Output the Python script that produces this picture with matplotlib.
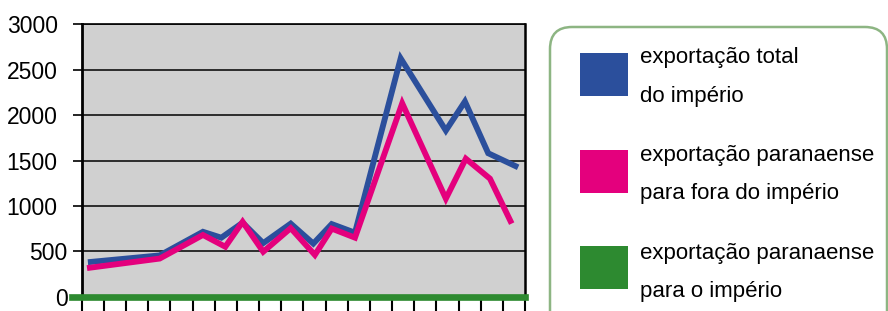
import matplotlib.pyplot as plt
from matplotlib.patches import FancyBboxPatch, Rectangle
from matplotlib.transforms import ScaledTranslation

plt.rcParams['font.family'] = ['Liberation Sans', 'DejaVu Sans']

# x position (in tick units) and values of each series
x_total = [0.28, 3.52, 5.47, 6.30, 7.26, 8.19, 9.43, 10.45, 11.28, 12.33, 14.39, 16.43, 17.29, 18.34, 19.69]
total = [380, 455, 715, 650, 815, 590, 805, 585, 800, 705, 2625, 1830, 2150, 1580, 1425]

x_fora = [0.24, 3.52, 5.47, 6.48, 7.26, 8.19, 9.43, 10.52, 11.28, 12.33, 14.46, 16.43, 17.33, 18.42, 19.40]
fora = [315, 420, 680, 550, 825, 495, 755, 460, 750, 650, 2130, 1080, 1520, 1300, 805]

imperio = 0  # exportação paranaense para o império (flat at zero)

n_ticks = 21
yticks = [0, 500, 1000, 1500, 2000, 2500, 3000]
ylabels = [str(v) for v in yticks]

legenda = [("exportação total", "do império"),
           ("exportação paranaense", "para fora do império"),
           ("exportação paranaense", "para o império")]
cores = ['#2b4f9c', '#e4007d', '#2d8a30']

fig = plt.figure(figsize=(8.88, 3.11), dpi=100)
ax = fig.add_axes([81.7/888, 14.3/311, (525-81.7)/888, (296.7-24.3)/311])
ax.set_facecolor('#d0d0d0')

ax.plot(x_total, total, color=cores[0], lw=4.2, solid_joinstyle='miter',
        solid_capstyle='butt', zorder=3)
ax.plot(x_fora, fora, color=cores[1], lw=4.2, solid_joinstyle='miter',
        solid_capstyle='butt', zorder=4)
ax.axhline(imperio, xmin=-0.022, xmax=1, color=cores[2], lw=4.8,
           clip_on=False, zorder=5)

ax.set_xlim(0, n_ticks-1)
ax.set_ylim(0, 3000)
ax.set_xticks(range(n_ticks))
ax.set_xticklabels([])
ax.tick_params(axis='x', direction='out', length=12, width=1.5, color='black')
ax.set_yticks(yticks, labels=ylabels)
ax.tick_params(axis='y', direction='out', length=6.5, width=1.2, pad=3.6,
               labelsize=16.5, color='black')
ax.yaxis.grid(True, color='#111111', linewidth=1.2)
ax.set_axisbelow(True)

ax.spines['left'].set_linewidth(2)
ax.spines['right'].set_linewidth(1.8)
ax.spines['top'].set_linewidth(1.2)
ax.spines['bottom'].set_visible(False)

# 4-digit labels sit further left
shift = ScaledTranslation(-0.10, 0, fig.dpi_scale_trans)
for lab in ax.get_yticklabels():
    if len(lab.get_text()) == 4:
        lab.set_transform(lab.get_transform() + shift)

# legend box
box = FancyBboxPatch((5.50, -0.4), 3.37, 3.24,
                     boxstyle='round,pad=0,rounding_size=0.22',
                     transform=fig.dpi_scale_trans, facecolor='white',
                     edgecolor='#8db583', lw=1.8)
fig.add_artist(box)

for i, (l1, l2) in enumerate(legenda):
    top = 53 + 96.5*i
    sq = Rectangle((5.80, (311 - top - 43)/100), 0.48, 0.43,
                   transform=fig.dpi_scale_trans, facecolor=cores[i],
                   edgecolor='none')
    fig.add_artist(sq)
    b1 = 63.5 + 97.5*i
    fig.text(6.40, (311 - b1)/100, l1, transform=fig.dpi_scale_trans,
             fontsize=16, va='baseline')
    fig.text(6.40, (311 - b1 - 38.5)/100, l2, transform=fig.dpi_scale_trans,
             fontsize=16, va='baseline')

fig.savefig('out.png', dpi=100)
